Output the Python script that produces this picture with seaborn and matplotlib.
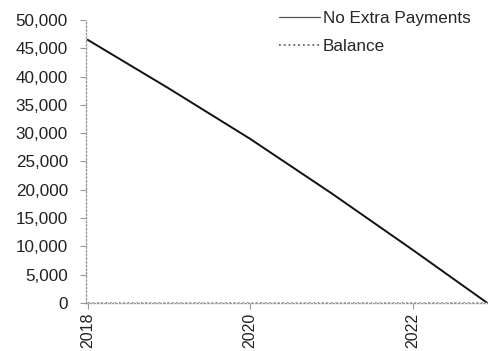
import matplotlib
matplotlib.use('Agg')
import matplotlib.pyplot as plt
from matplotlib.lines import Line2D
import pandas as pd
import seaborn as sns

# Loan balance by year
years = [2018.0, 2019.0, 2020.0, 2021.0, 2022.0, 2022.92]
no_extra = [46500, 37900, 29000, 19400, 9400, 0]
balance = [0, 0, 0, 0, 0, 0]
x_ticks = [2018, 2020, 2022]
y_ticks = [0, 5000, 10000, 15000, 20000, 25000, 30000, 35000, 40000, 45000, 50000]

df = pd.DataFrame({'year': years, 'No Extra Payments': no_extra, 'Balance': balance})

sns.set_style('white')
plt.rcParams['font.family'] = ['Liberation Sans', 'DejaVu Sans']

fig = plt.figure(figsize=(4.89, 3.51), dpi=100)
ax = fig.add_axes([0.176, 0.137, 0.822, 0.806])

sns.lineplot(data=df, x='year', y='No Extra Payments', ax=ax, color='#111111',
             linewidth=1.4)
sns.lineplot(data=df, x='year', y='Balance', ax=ax, color='#888888',
             linewidth=1.2, linestyle=':')

ax.set_xlim(2017.98, 2022.93)
ax.set_ylim(0, 50000)
ax.set_xticks(x_ticks)
ax.set_xticklabels([str(t) for t in x_ticks], rotation=90)
ax.set_yticks(y_ticks)
ax.set_yticklabels([f'{v:,}' for v in y_ticks])
ax.set_xlabel('')
ax.set_ylabel('')

for side in ['top', 'right']:
    ax.spines[side].set_visible(False)
for side in ['left', 'bottom']:
    ax.spines[side].set_color('#999999')
    ax.spines[side].set_linestyle(':')
    ax.spines[side].set_linewidth(1.0)

ax.tick_params(axis='y', labelsize=12.3, colors='#222222', length=4, width=0.8,
               direction='out', left=True, pad=9)
ax.tick_params(axis='x', labelsize=11.5, colors='#222222', length=4, width=0.8,
               direction='out', bottom=True, pad=3)
ax.tick_params(axis='both', color='#999999')

handles = [Line2D([], [], color='#555555', linewidth=0.9),
           Line2D([], [], color='#666666', linewidth=1.3, linestyle=':')]
ax.legend(handles, ['No Extra Payments', 'Balance'], loc='upper right',
          bbox_to_anchor=(0.995, 1.085), frameon=False, fontsize=12.3,
          handlelength=2.4, handletextpad=0.15, labelspacing=0.75)

fig.savefig('out.png', dpi=100)
